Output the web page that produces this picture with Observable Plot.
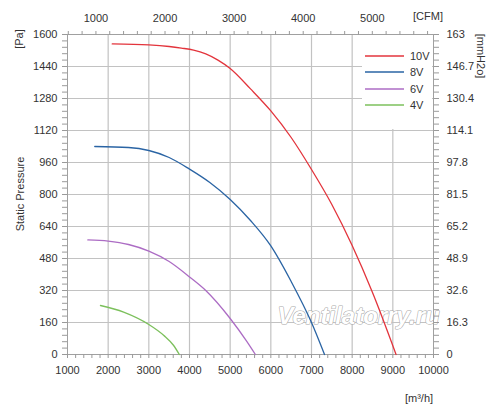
<!DOCTYPE html>
<html>
<head>
<meta charset="utf-8">
<script src="https://cdn.jsdelivr.net/npm/d3@7"></script>
<script src="https://cdn.jsdelivr.net/npm/@observablehq/plot@0.6"></script>
<style>
  html, body { margin: 0; padding: 0; background: #fff; }
  #wrap { position: relative; width: 500px; height: 416px; font-family: "Liberation Sans", Arial, sans-serif; }
  #legend { position: absolute; left: 362px; top: 35px; }
</style>
</head>
<body>
<div id="wrap"></div>
<script>
// ---- data ----
const series = ["10V", "8V", "6V", "4V"];
const colors = ["#e3343c", "#2a64a4", "#ac6cc4", "#7cc05c"];

const flow10 = [2100, 3000, 3500, 3800, 4100, 4400, 4700, 5000, 5500, 6000, 6500, 7000, 7500, 8000, 8500, 9080];
const pa10   = [1553, 1548, 1540, 1532, 1522, 1503, 1472, 1430, 1328, 1218, 1085, 925, 750, 545, 310, 0];

const flow8 = [1670, 2500, 3000, 3500, 4000, 4500, 5000, 5500, 6000, 6500, 7000, 7320];
const pa8   = [1040, 1035, 1020, 985, 927, 860, 775, 670, 543, 365, 160, 0];

const flow6 = [1500, 2000, 2500, 3000, 3500, 4000, 4400, 5000, 5400, 5620];
const pa6   = [573, 567, 550, 517, 465, 388, 320, 180, 68, 0];

const flow4 = [1810, 2380, 3000, 3370, 3610, 3750];
const pa4   = [245, 212, 150, 95, 45, 0];

// tick labels
const xMajor = [1000, 2000, 3000, 4000, 5000, 6000, 7000, 8000, 9000, 10000];
const yMajor = [0, 160, 320, 480, 640, 800, 960, 1120, 1280, 1440, 1600];
const mmLabels = ["0", "16.3", "32.6", "48.9", "65.2", "81.5", "97.8", "114.1", "130.4", "146.7", "163"];
const cfmMajor = [1000, 2000, 3000, 4000, 5000];
const CFM = 1.69901; // m3/h per CFM

// ---- build ----
const flows = [flow10, flow8, flow6, flow4];
const pas = [pa10, pa8, pa6, pa4];
const curves = series.flatMap((s, i) => flows[i].map((f, j) => ({ s, f, p: pas[i][j] })));

const xMinor = d3.range(1000, 10001, 200);
const yMinor = d3.range(0, 1601, 32);
const cfmMinor = d3.range(600, 6000, 200).map(c => c * CFM).filter(v => v >= 1000 && v <= 10000);
const xGrid = xMajor.slice(1, -1);
const yGrid = yMajor.slice(1, -1);

const txt = "#333";
const tickCol = "#9a9a9a";
const font = "'Liberation Sans', Arial, sans-serif";

const chart = Plot.plot({
  width: 500,
  height: 416,
  marginLeft: 67,
  marginRight: 67,
  marginTop: 34,
  marginBottom: 62,
  style: { fontFamily: font, fontSize: "11px", color: txt, background: "#fff" },
  x: { domain: [1000, 10000] },
  y: { domain: [0, 1600] },
  color: { domain: series, range: colors },
  marks: [
    Plot.gridX(xGrid, { stroke: "#c2c2c2", strokeOpacity: 1, strokeWidth: 1.2 }),
    Plot.gridY(yGrid, { stroke: "#c2c2c2", strokeOpacity: 1, strokeWidth: 1.2 }),
    Plot.text(["Ventilatorry.ru"], {
      frameAnchor: "top-left", dx: 291, dy: 272, fontSize: 24, fontStyle: "italic", fontWeight: "bold",
      fill: "#fff", stroke: "#a8a8a8", strokeWidth: 1.1, textAnchor: "middle"
    }),
    Plot.frame({ stroke: "#a0a0a0" }),
    Plot.line(curves, { x: "f", y: "p", z: "s", stroke: "s", strokeWidth: 1.3, curve: "monotone-x" }),
    // bottom axis
    Plot.axisX(xMinor, { anchor: "bottom", tickSize: 4, tickPadding: 8, stroke: tickCol, fill: txt, label: null,
      tickFormat: d => xMajor.includes(d) ? String(d) : "" }),
    // top CFM axis
    Plot.axisX(cfmMinor, { anchor: "top", tickSize: 4, tickPadding: 9, stroke: tickCol, fill: txt, label: null,
      tickFormat: d => { const c = Math.round(d / CFM); return cfmMajor.includes(c) ? String(c) : ""; } }),
    // left axis
    Plot.axisY(yMinor, { anchor: "left", tickSize: 5, tickPadding: 5, stroke: tickCol, fill: txt, label: null,
      tickFormat: d => yMajor.includes(d) ? String(d) : "" }),
    // right axis (mmH2O)
    Plot.axisY(yMinor, { anchor: "right", tickSize: 5, tickPadding: 8, stroke: tickCol, fill: txt, label: null,
      tickFormat: d => { const i = yMajor.indexOf(d); return i >= 0 ? mmLabels[i] : ""; } })
  ]
});

const wrap = document.getElementById("wrap");
wrap.appendChild(chart);

// axis titles
const svg = d3.select(chart.tagName.toLowerCase() === "svg" ? chart : chart.querySelector("svg"));
const titles = [
  { t: "[Pa]", x: 19, y: 39, r: -90 },
  { t: "Static Pressure", x: 20, y: 194, r: -90 },
  { t: "[mmH2o]", x: 481, y: 56, r: 90 },
  { t: "[CFM]", x: 428, y: 16, r: 0 },
  { t: "[m³/h]", x: 419, y: 398, r: 0 }
];
titles.forEach(d => {
  svg.append("text")
    .attr("transform", `translate(${d.x},${d.y}) rotate(${d.r})`)
    .attr("text-anchor", "middle").attr("dy", "0.35em")
    .attr("fill", txt).style("font-size", "11px").style("font-family", font)
    .text(d.t);
});

// legend overlay (white box hides grid like the original)
const lg = d3.select(wrap).append("svg")
  .attr("id", "legend")
  .attr("width", 70).attr("height", 94)
  .style("background", "#fff");
const rowY = [21, 37, 54, 70];
series.forEach((s, i) => {
  lg.append("line").attr("x1", 3).attr("x2", 42).attr("y1", rowY[i]).attr("y2", rowY[i])
    .attr("stroke", colors[i]).attr("stroke-width", 1.6);
  lg.append("text").attr("x", 48).attr("y", rowY[i]).attr("dy", "0.36em")
    .attr("fill", txt).style("font-size", "11px")
    .style("font-family", font).text(s);
});
</script>
</body>
</html>
